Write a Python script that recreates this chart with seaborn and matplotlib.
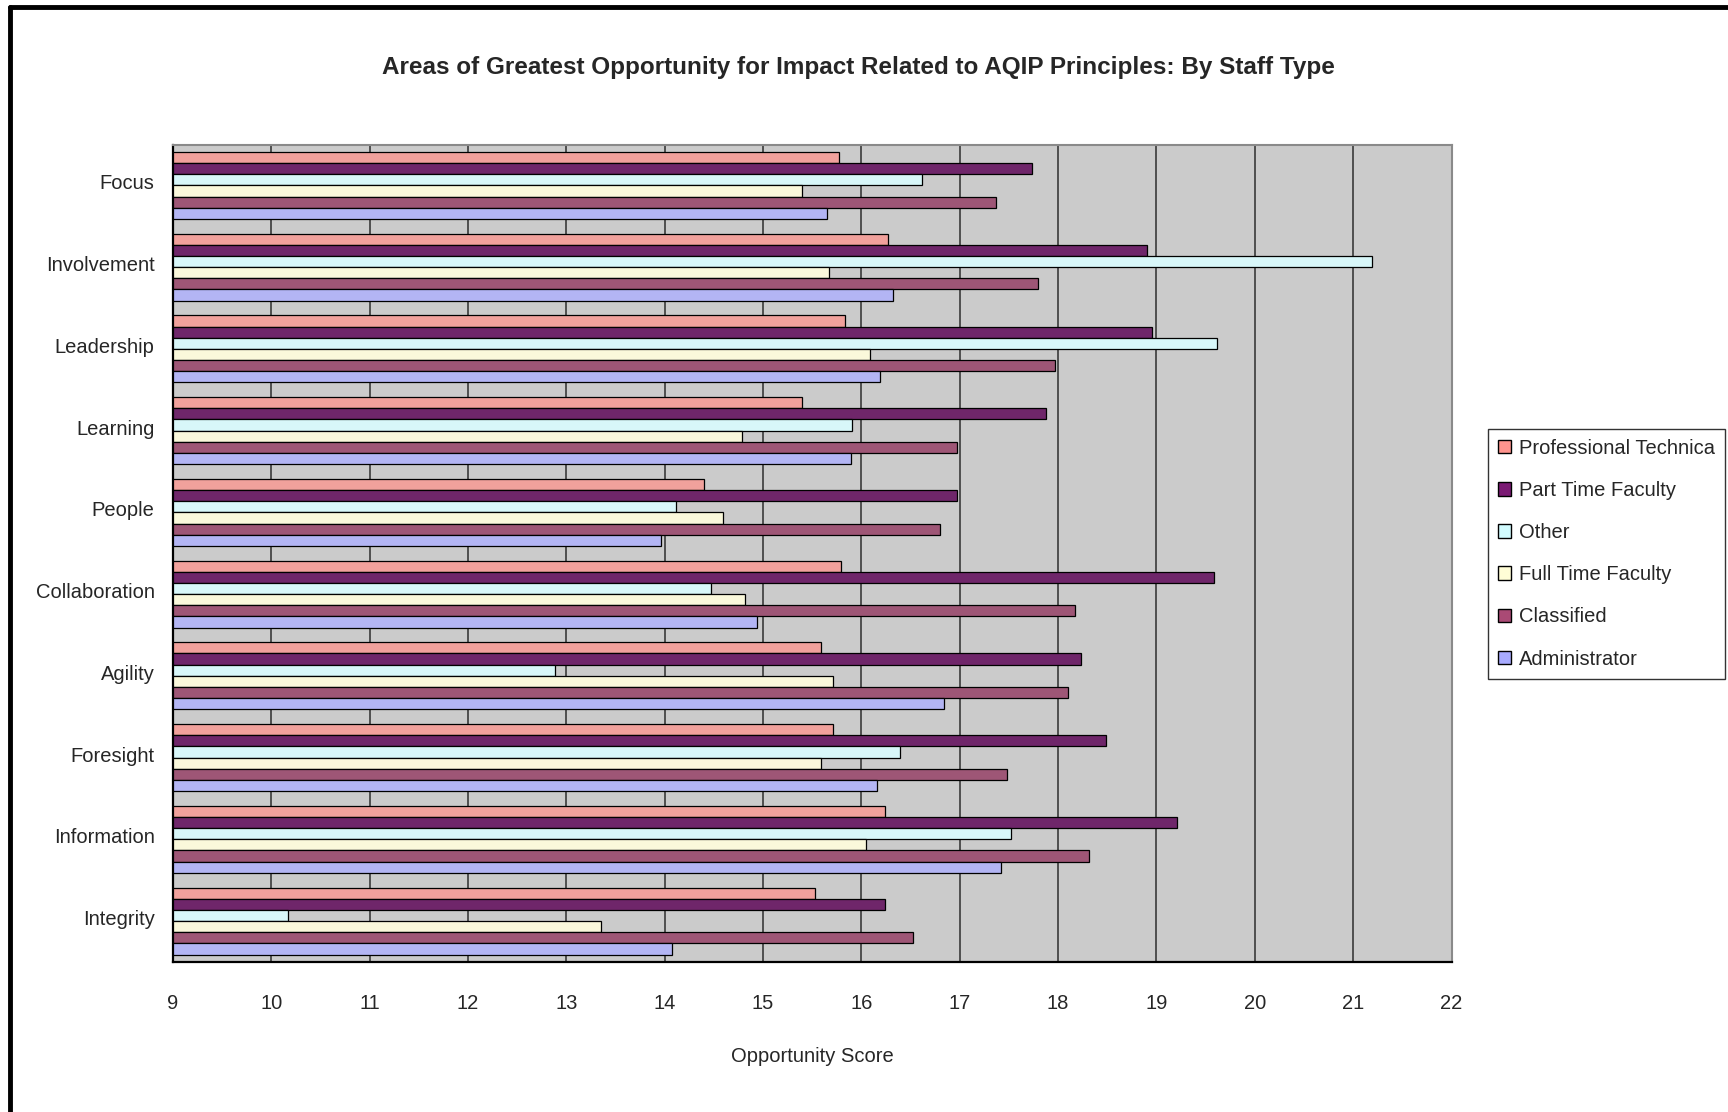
import numpy as np
import pandas as pd
import matplotlib
matplotlib.use("Agg")
import matplotlib.pyplot as plt
import matplotlib.transforms as mtransforms
import seaborn as sns
from matplotlib.lines import Line2D

# --- data ---
categories = ["Focus", "Involvement", "Leadership", "Learning", "People",
              "Collaboration", "Agility", "Foresight", "Information", "Integrity"]
staff_types = ["Professional Technica", "Part Time Faculty", "Other",
               "Full Time Faculty", "Classified", "Administrator"]

prof_tech = [15.77, 16.27, 15.83, 15.40, 14.40, 15.79, 15.59, 15.71, 16.24, 15.53]
part_time = [17.74, 18.90, 18.95, 17.88, 16.97, 19.59, 18.23, 18.49, 19.21, 16.24]
other = [16.62, 21.19, 19.62, 15.90, 14.12, 14.47, 12.89, 16.39, 17.52, 10.17]
full_time = [15.40, 15.67, 16.09, 14.79, 14.59, 14.82, 15.71, 15.59, 16.05, 13.35]
classified = [17.37, 17.80, 17.97, 16.97, 16.80, 18.17, 18.10, 17.48, 18.31, 16.53]
administrator = [15.65, 16.32, 16.19, 15.89, 13.96, 14.94, 16.84, 16.16, 17.42, 14.07]

colors = ["#FF948E", "#7B1A74", "#D2FCFF", "#FFFDD6", "#AA4A75", "#A8ABFF"]

series = [prof_tech, part_time, other, full_time, classified, administrator]
df = pd.DataFrame({
    "Area": categories * len(staff_types),
    "Staff": [s for s in staff_types for _ in categories],
    "Score": [v for vals in series for v in vals],
})

sns.set_theme(style="white")
plt.rcParams["font.family"] = ["Liberation Sans", "DejaVu Sans"]

fig = plt.figure(figsize=(17.28, 11.12), dpi=100)
ax = fig.add_axes([0.100, 0.135, 0.740, 0.735])
ax.set_facecolor("#CBCBCB")

sns.barplot(data=df, y="Area", x="Score", hue="Staff", order=categories,
            hue_order=staff_types, palette=colors, orient="h", width=0.82,
            edgecolor="black", linewidth=0.9, ax=ax, legend=False)

ax.set_xlim(9, 22)
ax.set_xticks(np.arange(9, 23))
ax.set_ylim(len(categories) - 0.5, -0.5)
ax.set_axisbelow(True)
ax.grid(axis="x", color="#3a3a3a", linewidth=1.2)
ax.grid(axis="y", visible=False)

for side in ["top", "right"]:
    ax.spines[side].set_color("#8a8a8a")
    ax.spines[side].set_linewidth(1.5)
for side in ["left", "bottom"]:
    ax.spines[side].set_color("black")
    ax.spines[side].set_linewidth(1.6)

ax.tick_params(axis="x", length=0, pad=23, labelsize=14.5)
ax.tick_params(axis="y", length=0, pad=13, labelsize=14.5)
# category labels sit a little above the middle of their bar group
shift = mtransforms.ScaledTranslation(0, 0.035, fig.dpi_scale_trans)
for tick in ax.yaxis.get_major_ticks():
    tick.label1.set_transform(tick.label1.get_transform() + shift)
ax.set_xlabel("Opportunity Score", fontsize=14.5, labelpad=24.5)
ax.set_ylabel("")

fig.text(0.497, 0.939, "Areas of Greatest Opportunity for Impact Related to AQIP Principles: By Staff Type",
         ha="center", va="center", fontsize=17.5, fontweight="bold")

# legend
handles = [plt.Rectangle((0, 0), 1, 1, facecolor=c, edgecolor="black", linewidth=1.0)
           for c in colors]
leg = fig.legend(handles, staff_types, loc="upper left", bbox_to_anchor=(0.861, 0.6145),
                 frameon=True, fontsize=14.5, handlelength=0.65, handleheight=0.65,
                 handletextpad=0.4, labelspacing=1.15, borderpad=0.5, borderaxespad=0,
                 fancybox=False, edgecolor="black")
leg.get_frame().set_linewidth(1.0)

# outer frame of the page figure (left and top edges)
fig.add_artist(Line2D([0.0055, 0.0055], [0.0, 0.9935], transform=fig.transFigure,
                      color="black", linewidth=3.5))
fig.add_artist(Line2D([0.0055, 1.0], [0.9935, 0.9935], transform=fig.transFigure,
                      color="black", linewidth=3.5))

fig.savefig("out.png", dpi=100)
